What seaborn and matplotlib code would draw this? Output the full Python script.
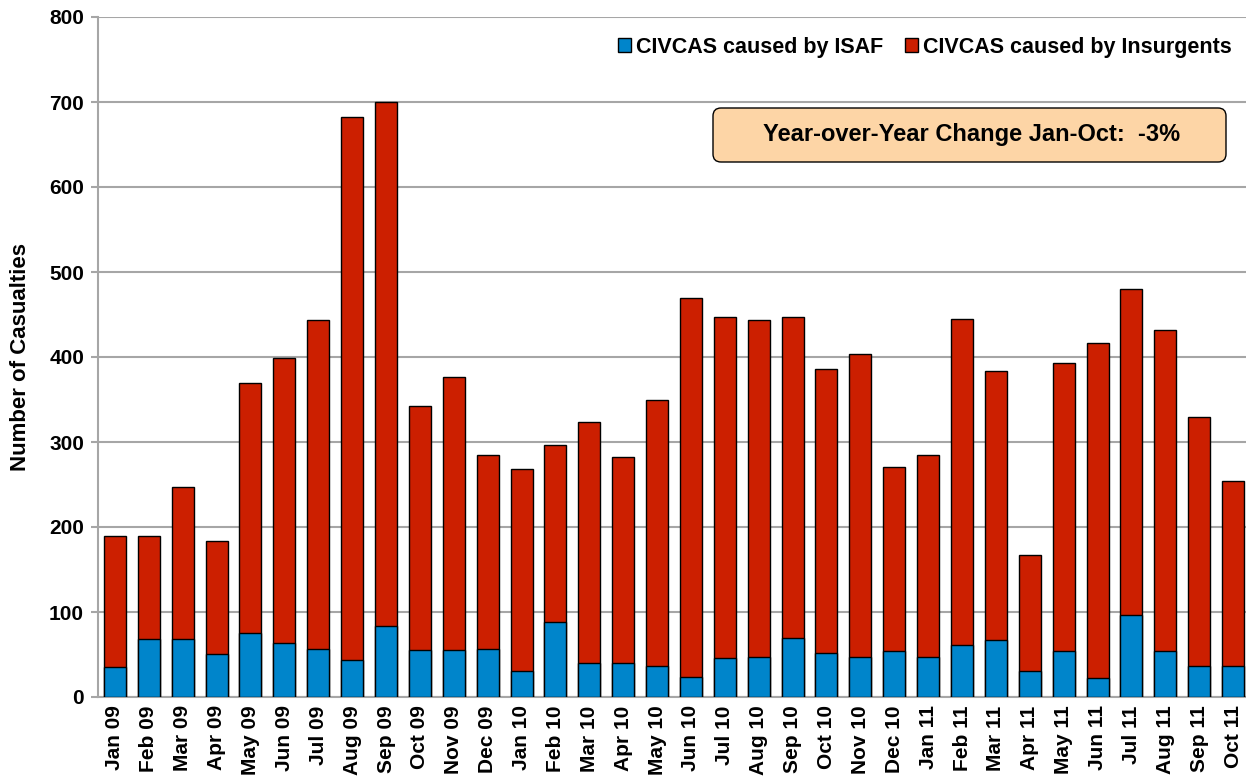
import numpy as np
import pandas as pd
import seaborn as sns
import matplotlib.pyplot as plt
from matplotlib.patches import Patch, FancyBboxPatch

# Data
months = ["Jan 09", "Feb 09", "Mar 09", "Apr 09", "May 09", "Jun 09", "Jul 09", "Aug 09",
          "Sep 09", "Oct 09", "Nov 09", "Dec 09",
          "Jan 10", "Feb 10", "Mar 10", "Apr 10", "May 10", "Jun 10", "Jul 10", "Aug 10",
          "Sep 10", "Oct 10", "Nov 10", "Dec 10",
          "Jan 11", "Feb 11", "Mar 11", "Apr 11", "May 11", "Jun 11", "Jul 11", "Aug 11",
          "Sep 11", "Oct 11"]
isaf = [35, 68, 68, 51, 75, 63, 56, 44, 83, 55, 55, 56,
        31, 88, 40, 40, 36, 24, 46, 47, 70, 52, 47, 54,
        47, 61, 67, 31, 54, 22, 97, 54, 36, 36]
insurgents = [155, 122, 179, 132, 294, 336, 387, 638, 617, 287, 321, 229,
              237, 208, 283, 242, 313, 446, 401, 396, 377, 334, 357, 217,
              238, 384, 316, 136, 339, 394, 383, 378, 294, 218]
yticks = list(range(0, 801, 100))

red = "#CC1F00"
blue = "#0085CB"

df = pd.DataFrame({"Month": months, "ISAF": isaf, "Insurgents": insurgents})
df["Total"] = df["ISAF"] + df["Insurgents"]

sns.set_style("white")
plt.rcParams["font.family"] = ["Liberation Sans", "DejaVu Sans"]
plt.rcParams["font.weight"] = "bold"
plt.rcParams["text.color"] = "black"
plt.rcParams["axes.labelcolor"] = "black"

fig = plt.figure(figsize=(12.46, 7.83), dpi=100)
ax = fig.add_axes([98 / 1246, 1 - 697 / 783, 1152 / 1246, 680 / 783])

# stacked bars: total in red, ISAF drawn over it in blue
sns.barplot(data=df, x="Month", y="Total", color=red, saturation=1, width=0.65,
            edgecolor="black", linewidth=1, ax=ax, zorder=3)
sns.barplot(data=df, x="Month", y="ISAF", color=blue, saturation=1, width=0.65,
            edgecolor="black", linewidth=1, ax=ax, zorder=4)

ax.set_xlim(-0.5, len(months) - 0.5)
ax.set_ylim(0, 800)
ax.set_yticks(yticks)
ax.set_yticklabels([str(v) for v in yticks], fontsize=15, fontweight="bold")
ax.yaxis.grid(True, color="#A6A6A6", linewidth=1.5, zorder=0)
ax.set_axisbelow(True)

ax.set_xticks(range(len(months)))
ax.set_xticklabels(months, rotation=90, fontsize=15, fontweight="bold")
ax.tick_params(axis="x", which="major", length=0, pad=6, labelcolor="black")
ax.set_xticks(np.arange(-0.5, len(months), 3), minor=True)
ax.tick_params(axis="x", which="minor", length=7, width=1.5, color="#A6A6A6")
ax.tick_params(axis="y", length=5, width=1.5, color="#A6A6A6", pad=5, left=True,
               labelcolor="black")

for side in ["top", "right"]:
    ax.spines[side].set_visible(False)
for side in ["left", "bottom"]:
    ax.spines[side].set_color("#A6A6A6")
    ax.spines[side].set_linewidth(1.5)

ax.set_xlabel("")
ax.set_ylabel("Number of Casualties", fontsize=16, fontweight="bold", labelpad=13)

handles = [Patch(facecolor=blue, edgecolor="black", label="CIVCAS caused by ISAF"),
           Patch(facecolor=red, edgecolor="black", label="CIVCAS caused by Insurgents")]
ax.legend(handles=handles, ncol=2, loc="center right",
          bbox_to_anchor=((1232 - 98) / 1152, (697 - 47) / 680),
          frameon=False, fontsize=15.5, handlelength=0.6, handleheight=0.6,
          handletextpad=0.25, columnspacing=1.0, borderpad=0, borderaxespad=0)

# highlight box
box = FancyBboxPatch((7.13, (783 - 162) / 100), 5.13, 0.54,
                     boxstyle="round,pad=0,rounding_size=0.08",
                     transform=fig.dpi_scale_trans, facecolor="#FDD5A6",
                     edgecolor="black", linewidth=1, zorder=5)
fig.patches.append(box)
fig.text(9.715 / 12.46, (783 - 135) / 783, "Year-over-Year Change Jan-Oct:  -3%",
         ha="center", va="center", fontsize=17, fontweight="bold", zorder=6)

fig.savefig("out.png", dpi=100)
